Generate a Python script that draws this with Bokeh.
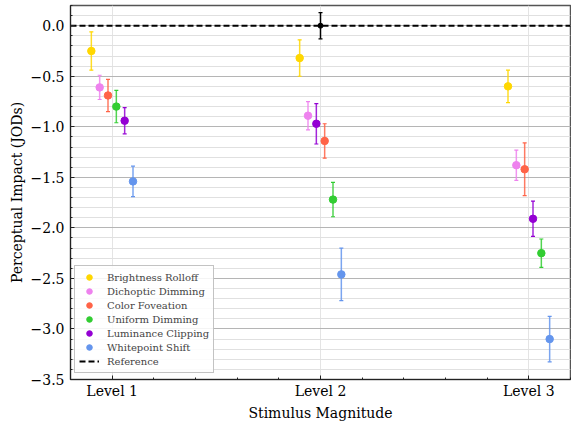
from bokeh.plotting import figure
from bokeh.models import (ColumnDataSource, Whisker, TeeHead, Legend, LegendItem,
                          FixedTicker, SingleIntervalTicker, CustomJSTickFormatter, Range1d)
from bokeh.embed import file_html
from bokeh.resources import INLINE

levels = ["Level 1", "Level 2", "Level 3"]
level_pos = [1, 2, 3]
conditions = ["Brightness Rolloff", "Dichoptic Dimming", "Color Foveation",
              "Uniform Dimming", "Luminance Clipping", "Whitepoint Shift"]
colors = ["#FFD700", "#EE82EE", "#FF6347", "#32CD32", "#9400D3", "#6495ED"]

brightness_rolloff = [-0.25, -0.32, -0.60]
brightness_rolloff_err = [0.19, 0.18, 0.16]
dichoptic_dimming = [-0.61, -0.89, -1.38]
dichoptic_dimming_err = [0.12, 0.14, 0.15]
color_foveation = [-0.69, -1.14, -1.42]
color_foveation_err = [0.16, 0.17, 0.26]
uniform_dimming = [-0.80, -1.72, -2.25]
uniform_dimming_err = [0.16, 0.17, 0.14]
luminance_clipping = [-0.94, -0.97, -1.91]
luminance_clipping_err = [0.13, 0.20, 0.175]
whitepoint_shift = [-1.54, -2.46, -3.10]
whitepoint_shift_err = [0.15, 0.26, 0.225]

reference_level = [2]
reference_value = [0.0]
reference_err = [0.13]

means = [brightness_rolloff, dichoptic_dimming, color_foveation,
         uniform_dimming, luminance_clipping, whitepoint_shift]
errs = [brightness_rolloff_err, dichoptic_dimming_err, color_foveation_err,
        uniform_dimming_err, luminance_clipping_err, whitepoint_shift_err]

SERIF = "DejaVu Serif"
DODGE = 0.04
X_MIN, X_MAX = 0.8, 3.2
Y_MIN, Y_MAX = -3.5, 0.2

p = figure(width=571, height=423, output_backend="svg", toolbar_location=None,
           x_range=Range1d(X_MIN, X_MAX), y_range=Range1d(Y_MIN, Y_MAX),
           min_border_left=70, min_border_right=1, min_border_top=5, min_border_bottom=43)

# rank-based dodge within each level (ordered by value, highest first)
ranks = []
for li in range(len(level_pos)):
    vals = [m[li] for m in means]
    order = sorted(range(len(vals)), key=lambda k: -vals[k])
    r = [0] * len(vals)
    for pos, k in enumerate(order):
        r[k] = pos
    ranks.append(r)

ref_line = p.line(x=[X_MIN, X_MAX], y=[reference_value[0]] * 2, line_color="black",
                  line_dash="6 3", line_width=2)

items = []
n = len(conditions)
for i, (name, col) in enumerate(zip(conditions, colors)):
    xs = [level_pos[li] + (ranks[li][i] - (n - 1) / 2) * DODGE for li in range(len(level_pos))]
    ys = means[i]
    src = ColumnDataSource(dict(x=xs, y=ys,
                                upper=[y + e for y, e in zip(ys, errs[i])],
                                lower=[y - e for y, e in zip(ys, errs[i])]))
    w = Whisker(base="x", upper="upper", lower="lower", source=src,
                line_color=col, line_width=1.5, line_alpha=0.85,
                upper_head=TeeHead(size=4, line_color=col, line_width=1.2),
                lower_head=TeeHead(size=4, line_color=col, line_width=1.2))
    p.add_layout(w)
    r = p.scatter("x", "y", source=src, size=7.5, color=col, line_color=col)
    items.append(LegendItem(label=name, renderers=[r]))

rsrc = ColumnDataSource(dict(x=reference_level, y=reference_value,
                             upper=[v + e for v, e in zip(reference_value, reference_err)],
                             lower=[v - e for v, e in zip(reference_value, reference_err)]))
p.add_layout(Whisker(base="x", upper="upper", lower="lower", source=rsrc,
                     line_color="black", line_width=1.5,
                     upper_head=TeeHead(size=4, line_color="black", line_width=1.2),
                     lower_head=TeeHead(size=4, line_color="black", line_width=1.2)))
p.scatter("x", "y", source=rsrc, size=5, color="black")

items.append(LegendItem(label="Reference", renderers=[ref_line]))

legend = Legend(items=items, location=(4, 6), margin=0, padding=4, spacing=0,
                glyph_height=14, label_height=14, glyph_width=20, label_standoff=8,
                label_text_font=SERIF, label_text_font_size="10px",
                border_line_color="#888888", border_line_width=1.2,
                background_fill_color="white", background_fill_alpha=0.85)
p.add_layout(legend)

# axes
p.xaxis.ticker = FixedTicker(ticks=level_pos,
                             minor_ticks=[X_MIN + 0.2 * k for k in range(13)])
p.xaxis.major_label_overrides = {lp: lab for lp, lab in zip(level_pos, levels)}
p.yaxis.ticker = SingleIntervalTicker(interval=0.5, num_minor_ticks=5)
p.yaxis.formatter = CustomJSTickFormatter(
    code="return (tick < -1e-9 ? '\u2212' : '') + Math.abs(tick).toFixed(1);")

for ax in (p.xaxis, p.yaxis):
    ax.major_label_text_font = SERIF
    ax.major_label_text_font_size = "14px"
    ax.major_label_text_color = "black"
    ax.axis_label_text_font = SERIF
    ax.axis_label_text_font_size = "14px"
    ax.axis_label_text_font_style = "normal"
    ax.axis_label_text_color = "black"
    ax.major_tick_in = 4
    ax.major_tick_out = 0
    ax.minor_tick_in = 2
    ax.minor_tick_out = 0
    ax.axis_line_color = "#222222"
    ax.major_tick_line_color = "#222222"
    ax.minor_tick_line_color = "#222222"
p.xaxis.axis_label = "Stimulus Magnitude"
p.yaxis.axis_label = "Perceptual Impact (JODs)"
p.xaxis.major_label_standoff = 3
p.xaxis.axis_label_standoff = 3
p.yaxis.major_label_standoff = 6
p.yaxis.axis_label_standoff = 3

p.xgrid.grid_line_color = "#e4e4e4"
p.xgrid.grid_line_width = 1
p.ygrid.grid_line_color = "#b5b5b5"
p.ygrid.grid_line_width = 1.2
p.ygrid.minor_grid_line_color = "#e0e0e0"
p.ygrid.minor_grid_line_width = 1.2

p.outline_line_color = "#555555"
p.outline_line_width = 1.5
p.background_fill_color = "white"
p.border_fill_color = "white"

open("out.html", "w").write(file_html(p, INLINE))
